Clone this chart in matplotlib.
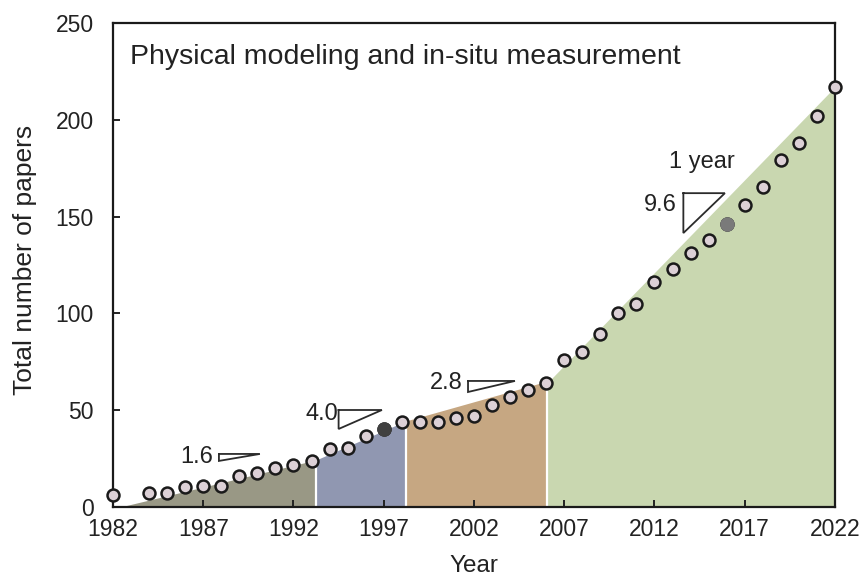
import matplotlib
matplotlib.use('Agg')
import matplotlib.pyplot as plt

plt.rcParams['font.family'] = ['Liberation Sans', 'DejaVu Sans']

# Total number of papers per year (1983 has no point)
years = [1982, 1984, 1985, 1986, 1987, 1988, 1989, 1990, 1991, 1992,
         1993, 1994, 1995, 1996, 1997, 1998, 1999, 2000, 2001, 2002,
         2003, 2004, 2005, 2006, 2007, 2008, 2009, 2010, 2011, 2012,
         2013, 2014, 2015, 2016, 2017, 2018, 2019, 2020, 2021, 2022]
papers = [6, 7, 7, 10.5, 11, 11, 16, 17.5, 20, 21.5,
          24, 30, 30.5, 36.5, 40.5, 44, 44, 44, 46, 47,
          52.5, 57, 60.5, 64, 76, 80, 89.5, 100, 105, 116,
          123, 131, 138, 146, 156, 165.5, 179, 188, 202, 217]
# years drawn with a filled marker
filled_years = [1997, 2016]
filled_colors = ['#404040', '#7a7a7a']

# growth stages (shaded areas)
stage_x0 = [1982.4, 1993.25, 1998.25, 2006.05]
stage_x1 = [1993.25, 1998.25, 2006.05, 2022]
stage_y0 = [0, 24.3, 44.5, 64]
stage_y1 = [24.3, 44.5, 65, 217]
stage_colors = ['#999885', '#9097b1', '#c6a782', '#c9d7b0']

# slope labels (papers per year)
slope_labels = ['1.6', '4.0', '2.8', '9.6']
tri_x0 = [1987.87, 1994.5, 2001.67, 2013.6]
tri_x1 = [1990.14, 1996.9, 2004.27, 2015.9]
tri_ylo = [23.8, 40.3, 59.4, 141.5]
tri_yhi = [27.4, 50.1, 65.1, 162.1]
lab_x = [1987.54, 1994.47, 2001.39, 2013.25]
lab_y = [25.8, 48.0, 64.0, 156]

fig = plt.figure(figsize=(8.65, 5.76), dpi=100)
ax = fig.add_axes([0.1306, 0.1198, 0.8347, 0.8403])

for x0, x1, y0, y1, c in zip(stage_x0, stage_x1, stage_y0, stage_y1, stage_colors):
    ax.fill_between([x0, x1], [0, 0], [y0, y1], color=c, lw=0, zorder=1)
# thin white separators between stages
for x, y in zip(stage_x1[:-1], stage_y1[:-1]):
    ax.plot([x, x], [0, y + 0.5], color='white', lw=1.6, zorder=1.5)

ax.plot(years, papers, 'o', ms=8.6, mfc='#dcd0d6', mec='#1a1a1a', mew=1.8,
        zorder=4, clip_on=False)
for yr, c in zip(filled_years, filled_colors):
    v = papers[years.index(yr)]
    ax.plot([yr], [v], 'o', ms=8.6, mfc=c, mec=c, mew=1.8, zorder=5)

for lab, x0, x1, ylo, yhi, lx, ly in zip(slope_labels, tri_x0, tri_x1, tri_ylo,
                                         tri_yhi, lab_x, lab_y):
    ax.plot([x0, x1, x0, x0], [yhi, yhi, ylo, yhi], color='#2b2b2b', lw=1.3,
            zorder=3, solid_joinstyle='miter')
    ax.text(lx, ly, lab, ha='right', va='center', fontsize=17, color='#222222')
ax.text((tri_x0[3] + tri_x1[3]) / 2 - 0.1, 178, '1 year', ha='center', va='center',
        fontsize=17, color='#222222')

ax.text(0.0235, 0.93, 'Physical modeling and in-situ measurement',
        transform=ax.transAxes, ha='left', va='center', fontsize=20.5, color='#222222')

ax.set_xlim(1982, 2022)
ax.set_ylim(0, 250)
ax.set_xticks(range(1982, 2023, 5))
ax.set_yticks(range(0, 251, 50))
ax.tick_params(direction='in', length=5, width=1.4, labelsize=16.5,
               colors='#222222')
ax.tick_params(axis='y', pad=14)
ax.tick_params(axis='x', pad=8)
for s in ax.spines.values():
    s.set_linewidth(1.6)
    s.set_color('#1a1a1a')

ax.set_xlabel('Year', fontsize=17.5, color='#222222', labelpad=10)
ax.set_ylabel('Total number of papers', fontsize=19, color='#222222')
ax.yaxis.set_label_coords(-0.105, 0.51)

plt.savefig('out.png', dpi=100)
plt.close()
